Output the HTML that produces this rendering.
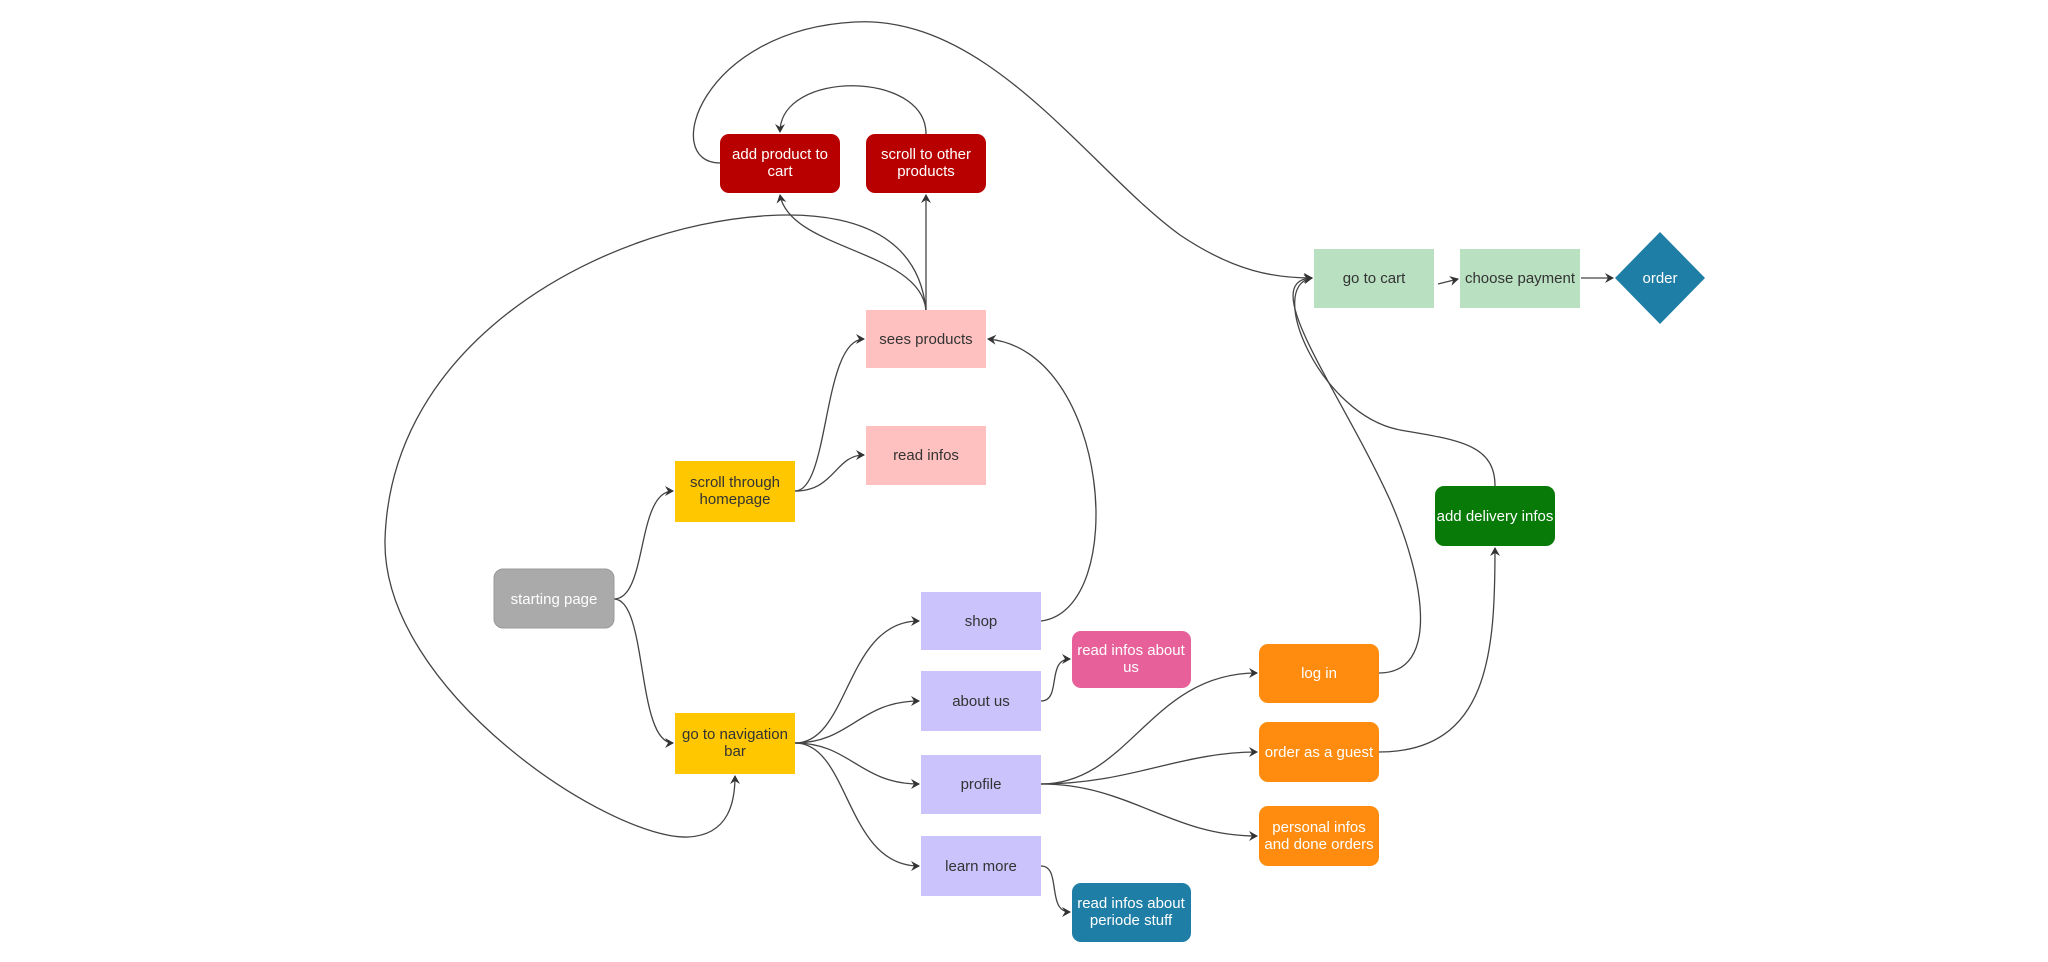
<!DOCTYPE html>
<html><head><meta charset="utf-8"><style>
html,body{margin:0;padding:0;background:#fff;}
svg{display:block;}
text{font-family:"Liberation Sans",sans-serif;font-size:15px;text-anchor:middle;}
</style></head><body>
<svg width="2048" height="962" viewBox="0 0 2048 962" xmlns="http://www.w3.org/2000/svg">
<defs>
<marker id="a" markerWidth="10" markerHeight="10" refX="8" refY="5" orient="auto" markerUnits="userSpaceOnUse">
<path d="M0,0 L9,5 L0,10 L3,5 z" fill="#333"/>
</marker>
</defs>
<g fill="none" stroke="#444" stroke-width="1.3" marker-end="url(#a)">
<path d="M614,599 C648,599 636,491 673,491"/>
<path d="M614,599 C648,599 636,743 673,743"/>
<path d="M795,491 C830,491 822,339 864,339"/>
<path d="M795,491 C835,491 835,455 864,455"/>
<path d="M926,310 L926,195"/>
<path d="M926,310 C920,250 790,250 780,195"/>
<path d="M926,310 C915,200 780,208 700,225 C560,255 390,360 385,540 C382,690 610,840 688,837 C730,835 735,800 735,776"/>
<path d="M926,134 C926,70 780,70 780,132"/>
<path d="M720,163 C660,163 700,30 855,22 C990,15 1090,170 1180,235 C1235,272 1275,278 1312,278"/>
<path d="M1041,621 C1130,610 1110,350 988,339"/>
<path d="M1041,701 C1062,701 1046,659 1070,659"/>
<path d="M795,743 C850,743 845,621 919,621"/>
<path d="M795,743 C850,743 860,701 919,701"/>
<path d="M795,743 C850,743 860,784 919,784"/>
<path d="M795,743 C850,743 845,866 919,866"/>
<path d="M1041,866 C1062,866 1046,912 1070,912"/>
<path d="M1041,784 C1130,784 1150,673 1257,673"/>
<path d="M1041,784 C1130,784 1180,752 1257,752"/>
<path d="M1041,784 C1130,784 1170,836 1257,836"/>
<path d="M1379,673 C1440,673 1425,580 1390,500 C1340,390 1255,280 1312,278"/>
<path d="M1495,486 C1495,445 1460,440 1400,430 C1320,415 1265,285 1312,278"/>
<path d="M1379,752 C1490,752 1495,650 1495,548"/>
<path d="M1438,284 L1458,279"/>
<path d="M1581,278 L1613,278"/>
</g>
<g>
<rect x="720" y="134" width="120" height="59" rx="9" fill="#b80000"/>
<text x="780" y="159" fill="#fff">add product to</text><text x="780" y="176" fill="#fff">cart</text>
<rect x="866" y="134" width="120" height="59" rx="9" fill="#b80000"/>
<text x="926" y="159" fill="#fff">scroll to other</text><text x="926" y="176" fill="#fff">products</text>
<rect x="866" y="310" width="120" height="58" fill="#ffc0c0"/>
<text x="926" y="344" fill="#333">sees products</text>
<rect x="866" y="426" width="120" height="59" fill="#ffc0c0"/>
<text x="926" y="460" fill="#333">read infos</text>
<rect x="675" y="461" width="120" height="61" fill="#ffc700"/>
<text x="735" y="487" fill="#333">scroll through</text><text x="735" y="504" fill="#333">homepage</text>
<rect x="494" y="569" width="120" height="59" rx="9" fill="#aaaaaa" stroke="#999"/>
<text x="554" y="604" fill="#fff">starting page</text>
<rect x="675" y="713" width="120" height="61" fill="#ffc700"/>
<text x="735" y="739" fill="#333">go to navigation</text><text x="735" y="756" fill="#333">bar</text>
<rect x="921" y="592" width="120" height="58" fill="#cbc3fb"/>
<text x="981" y="626" fill="#333">shop</text>
<rect x="921" y="671" width="120" height="60" fill="#cbc3fb"/>
<text x="981" y="706" fill="#333">about us</text>
<rect x="921" y="755" width="120" height="59" fill="#cbc3fb"/>
<text x="981" y="789" fill="#333">profile</text>
<rect x="921" y="836" width="120" height="60" fill="#cbc3fb"/>
<text x="981" y="871" fill="#333">learn more</text>
<rect x="1072" y="631" width="119" height="57" rx="9" fill="#e8609a"/>
<text x="1131" y="655" fill="#fff">read infos about</text><text x="1131" y="672" fill="#fff">us</text>
<rect x="1072" y="883" width="119" height="59" rx="9" fill="#1f7ea5"/>
<text x="1131" y="908" fill="#fff">read infos about</text><text x="1131" y="925" fill="#fff">periode stuff</text>
<rect x="1259" y="644" width="120" height="59" rx="9" fill="#ff8c0f"/>
<text x="1319" y="678" fill="#fff">log in</text>
<rect x="1259" y="722" width="120" height="60" rx="9" fill="#ff8c0f"/>
<text x="1319" y="757" fill="#fff">order as a guest</text>
<rect x="1259" y="806" width="120" height="60" rx="9" fill="#ff8c0f"/>
<text x="1319" y="832" fill="#fff">personal infos</text><text x="1319" y="849" fill="#fff">and done orders</text>
<rect x="1435" y="486" width="120" height="60" rx="9" fill="#087a08"/>
<text x="1495" y="521" fill="#fff">add delivery infos</text>
<rect x="1314" y="249" width="120" height="59" fill="#b9e0c0"/>
<text x="1374" y="283" fill="#333">go to cart</text>
<rect x="1460" y="249" width="120" height="59" fill="#b9e0c0"/>
<text x="1520" y="283" fill="#333">choose payment</text>
<polygon points="1660,232 1705,278 1660,324 1615,278" fill="#1f7ea5"/>
<text x="1660" y="283" fill="#fff">order</text>
</g>
</svg>
</body></html>
